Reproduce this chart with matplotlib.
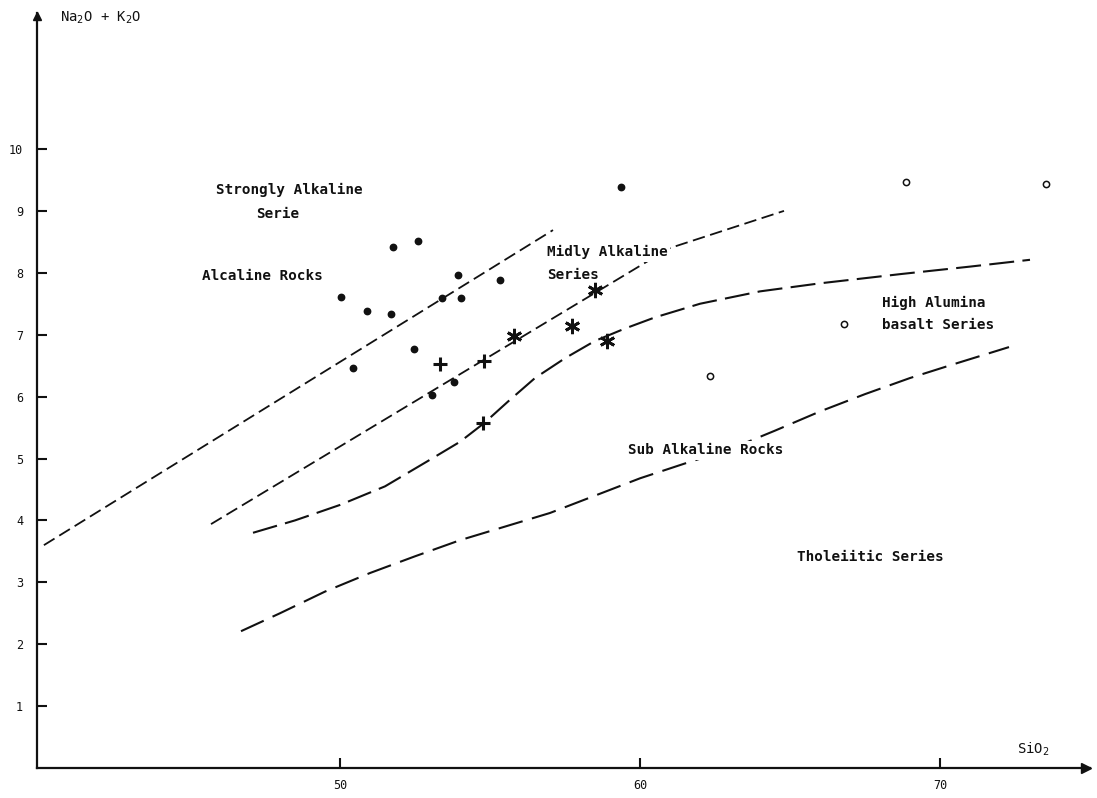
import matplotlib
matplotlib.use("Agg")
import matplotlib.pyplot as plt

# ---- data -------------------------------------------------------------
# filled dots: alkaline rocks
dot_sio2 = [51.78, 52.6, 53.92, 55.33, 50.04, 53.39, 54.03, 50.9, 51.7,
            52.48, 50.42, 53.8, 53.06, 59.36]
dot_alk = [8.41, 8.52, 7.96, 7.88, 7.61, 7.59, 7.59, 7.39, 7.33,
           6.77, 6.47, 6.24, 6.03, 9.38]

# crosses
cross_sio2 = [53.33, 54.81, 54.78]
cross_alk = [6.52, 6.57, 5.57]

# asterisks
star_sio2 = [55.81, 57.74, 58.5, 58.89]
star_alk = [6.98, 7.14, 7.72, 6.90]

# open circles: high alumina basalt series
open_sio2 = [68.86, 73.52, 66.81, 62.33]
open_alk = [9.47, 9.44, 7.18, 6.33]

# boundary lines
strong_sio2 = [40.13, 57.1]
strong_alk = [3.60, 8.69]

mild_sio2 = [45.7, 60.3, 61.0, 64.8]
mild_alk = [3.94, 8.2, 8.4, 9.0]

hab_sio2 = [47.1, 48.5, 50.0, 51.5, 53.0, 54.0, 54.8, 55.6, 56.5, 57.5,
            58.5, 59.5, 60.5, 62.0, 64.0, 66.0, 68.7, 71.0, 73.0]
hab_alk = [3.80, 4.00, 4.25, 4.55, 4.98, 5.27, 5.57, 5.92, 6.30, 6.62,
           6.90, 7.10, 7.28, 7.50, 7.70, 7.83, 7.98, 8.10, 8.21]

sub_sio2 = [46.7, 48.0, 49.5, 51.0, 52.5, 54.0, 55.5, 57.0, 58.5, 60.0,
            61.5, 63.0, 64.5, 66.0, 67.5, 69.0, 70.5, 72.3]
sub_alk = [2.21, 2.50, 2.85, 3.15, 3.42, 3.68, 3.90, 4.12, 4.40, 4.68,
           4.92, 5.15, 5.45, 5.76, 6.04, 6.30, 6.53, 6.80]

x_ticks = [50, 60, 70]
y_ticks = [1, 2, 3, 4, 5, 6, 7, 8, 9, 10]

# ---- figure -----------------------------------------------------------
plt.rcParams['lines.scale_dashes'] = False
FONT = 'DejaVu Sans Mono'
INK = '#111111'

fig = plt.figure(figsize=(10.97, 7.98), dpi=100)
xmin, xmax = 39.9, 75.0
ymin, ymax = 0.0, 12.2
ax = fig.add_axes([37 / 1097, 30 / 798, (xmax - xmin) * 30 / 1097, (ymax - ymin) * 61.9 / 798])
ax.set_xlim(xmin, xmax)
ax.set_ylim(ymin, ymax)

for side in ('top', 'right'):
    ax.spines[side].set_visible(False)
for side in ('left', 'bottom'):
    ax.spines[side].set_linewidth(1.6)
    ax.spines[side].set_color(INK)

# arrowheads on the axes
ax.plot([xmax - 0.15], [0], marker='>', ms=7, color=INK, clip_on=False)
ax.plot([xmin], [ymax - 0.05], marker='^', ms=6, color=INK, clip_on=False)

ax.set_xticks(x_ticks)
ax.set_yticks(y_ticks)
ax.tick_params(direction='in', length=7, width=1.5, color=INK,
               labelsize=8.5, labelcolor=INK)
ax.tick_params(axis='x', pad=8)
ax.tick_params(axis='y', pad=10)
for lab in ax.get_xticklabels() + ax.get_yticklabels():
    lab.set_family(FONT)

# boundary lines
ax.plot(strong_sio2, strong_alk, color=INK, lw=1.3, dashes=(9, 4))
ax.plot(mild_sio2, mild_alk, color=INK, lw=1.3, dashes=(9, 4))
ax.plot(hab_sio2, hab_alk, color=INK, lw=1.5, dashes=(18, 6))
ax.plot(sub_sio2, sub_alk, color=INK, lw=1.5, dashes=(18, 7))

# samples
ax.plot(dot_sio2, dot_alk, 'o', ms=4.6, color=INK, zorder=5)
ax.plot(cross_sio2, cross_alk, '+', ms=10, mew=2.2, color=INK, zorder=5)
ax.plot(star_sio2, star_alk, marker=(6, 2, 0), ls='none', ms=11, mew=2.0,
        color=INK, zorder=5)
ax.plot(open_sio2, open_alk, 'o', ms=4.5, mfc='white', mec=INK, mew=1.1, zorder=5)

# labels
box = dict(facecolor='white', edgecolor='none', pad=1.5)
txt = dict(family=FONT, fontsize=10.3, fontweight='bold', color=INK,
           va='center', zorder=4, bbox=box)
ax.text(48.3, 9.34, 'Strongly Alkaline', ha='center', **txt)
ax.text(47.93, 8.95, 'Serie', ha='center', **txt)
ax.text(45.39, 7.95, 'Alcaline Rocks', ha='left', **txt)
ax.text(56.89, 8.33, 'Midly Alkaline', ha='left', **txt)
ax.text(56.89, 7.96, 'Series', ha='left', **txt)
ax.text(68.06, 7.52, 'High Alumina', ha='left', **txt)
ax.text(68.06, 7.16, 'basalt Series', ha='left', **txt)
ax.text(59.6, 5.13, 'Sub Alkaline Rocks', ha='left', **txt)
ax.text(65.22, 3.41, 'Tholeiitic Series', ha='left', **txt)

ax.text(40.67, 12.12, r'Na$_2$O + K$_2$O', ha='left', va='center',
        family=FONT, fontsize=10, color=INK, clip_on=False)
ax.text(72.57, 0.30, r'SiO$_2$', ha='left', va='center',
        family=FONT, fontsize=10, color=INK, clip_on=False)

fig.savefig('out.png', dpi=100, facecolor='white')
